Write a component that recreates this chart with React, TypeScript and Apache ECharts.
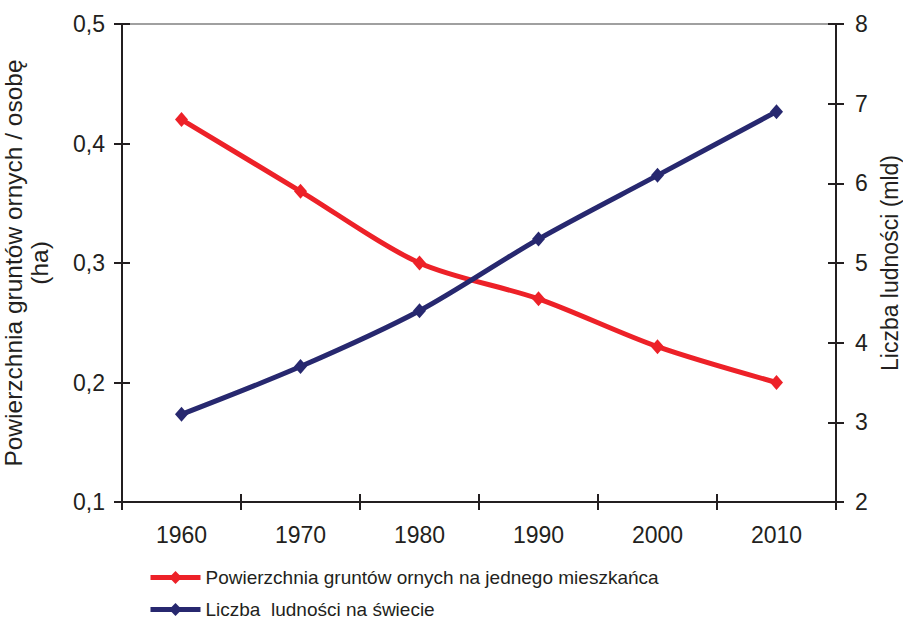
import React, { useEffect, useRef } from "react";
import * as echarts from "echarts";

const years = ["1960", "1970", "1980", "1990", "2000", "2010"];
const landPerPerson = [0.42, 0.36, 0.3, 0.27, 0.23, 0.2];
const population = [3.1, 3.7, 4.4, 5.3, 6.1, 6.9];
const seriesNames = [
  "Powierzchnia gruntów ornych na jednego mieszkańca",
  "Liczba  ludności na świecie",
];

const RED = "#ED2128";
const BLUE = "#27286F";
const TXT = "#231F20";
const FONT = "Liberation Sans, Arial, sans-serif";

export default function App() {
  const ref = useRef<HTMLDivElement>(null);
  useEffect(() => {
    if (!ref.current) return;
    const chart = echarts.init(ref.current, null, { renderer: "svg" });
    const axisLine = { show: true, lineStyle: { color: TXT, width: 2 } };
    const tickOut = { show: true, inside: false, length: 8, lineStyle: { color: TXT, width: 2 } };
    const tickIn = { show: true, inside: true, length: 8, lineStyle: { color: TXT, width: 2 } };
    const labelStyle = { color: TXT, fontSize: 23, fontFamily: FONT };
    const legendBase = {
      orient: "vertical",
      left: 148,
      padding: 0,
      itemWidth: 50,
      itemHeight: 16,
      itemGap: 5,
      lineStyle: { width: 5 },
      textStyle: { color: TXT, fontSize: 19, fontFamily: FONT },
    };
    chart.setOption({
      animation: false,
      backgroundColor: "#fff",
      grid: { left: 122, right: 67, top: 24, bottom: 118, containLabel: false, outerBoundsMode: "none" },
      legend: [
        { ...legendBase, top: 568, data: [seriesNames[0]] },
        { ...legendBase, top: 600, data: [seriesNames[1]] },
      ],
      xAxis: [
        {
          type: "category",
          data: years,
          position: "bottom",
          boundaryGap: true,
          axisLine,
          axisTick: tickOut,
          axisLabel: { ...labelStyle, margin: 21 },
          splitLine: { show: false },
        },
        {
          type: "category",
          data: years,
          position: "bottom",
          boundaryGap: true,
          axisLine: { show: false },
          axisTick: tickIn,
          axisLabel: { show: false },
          splitLine: { show: false },
        },
        {
          type: "category",
          data: years,
          position: "top",
          boundaryGap: true,
          axisLine: { show: true, lineStyle: { color: "#A0A0A0", width: 2 } },
          axisTick: { show: false },
          axisLabel: { show: false },
          splitLine: { show: false },
        },
      ],
      yAxis: [
        {
          type: "value",
          position: "left",
          min: 0.1,
          max: 0.5,
          interval: 0.1,
          axisLine,
          axisTick: tickOut,
          axisLabel: {
            ...labelStyle,
            margin: 17,
            formatter: (v: number) => v.toFixed(1).replace(".", ","),
          },
          splitLine: { show: false },
          name: "Powierzchnia gruntów ornych / osobę\n(ha)",
          nameLocation: "middle",
          nameRotate: 90,
          nameGap: 70,
          nameTextStyle: { color: TXT, fontSize: 24.5, fontFamily: FONT, lineHeight: 26 },
        },
        {
          type: "value",
          position: "right",
          min: 2,
          max: 8,
          interval: 1,
          axisLine,
          axisTick: tickOut,
          axisLabel: { ...labelStyle, margin: 19 },
          splitLine: { show: false },
          name: "Liczba ludności (mld)",
          nameLocation: "middle",
          nameRotate: 90,
          nameGap: 42,
          nameTextStyle: { color: TXT, fontSize: 23, fontFamily: FONT },
        },
        {
          type: "value",
          position: "left",
          min: 0.1,
          max: 0.5,
          interval: 0.1,
          axisLine: { show: false },
          axisTick: tickIn,
          axisLabel: { show: false },
          splitLine: { show: false },
        },
        {
          type: "value",
          position: "right",
          min: 2,
          max: 8,
          interval: 1,
          axisLine: { show: false },
          axisTick: tickIn,
          axisLabel: { show: false },
          splitLine: { show: false },
        },
      ],
      series: [
        {
          name: seriesNames[0],
          type: "line",
          xAxisIndex: 0,
          yAxisIndex: 0,
          data: landPerPerson,
          smooth: 0.3,
          symbol: "diamond",
          symbolSize: [13, 15],
          lineStyle: { color: RED, width: 5 },
          itemStyle: { color: RED },
        },
        {
          name: seriesNames[1],
          type: "line",
          xAxisIndex: 0,
          yAxisIndex: 1,
          data: population,
          smooth: 0.3,
          symbol: "diamond",
          symbolSize: [13, 15],
          lineStyle: { color: BLUE, width: 5 },
          itemStyle: { color: BLUE },
        },
      ],
    });
    return () => chart.dispose();
  }, []);
  return <div ref={ref} style={{ width: 903, height: 620, position: "absolute", left: 0, top: 0 }} />;
}
